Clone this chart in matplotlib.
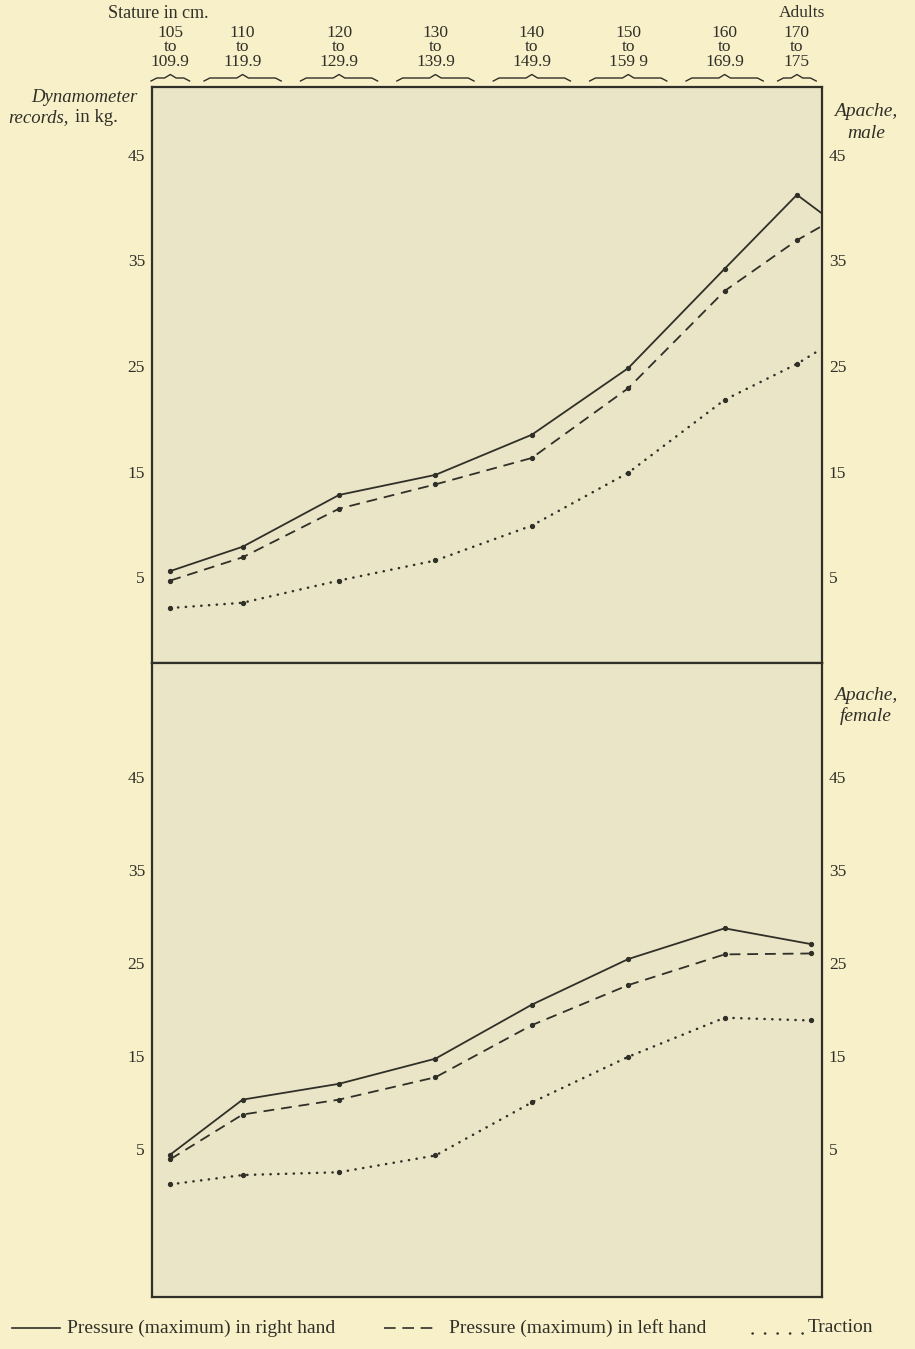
import numpy as np
import matplotlib.pyplot as plt
from matplotlib.lines import Line2D
from matplotlib.transforms import blended_transform_factory

plt.rcParams['font.family'] = ['Liberation Serif', 'DejaVu Serif']

# stature classes, cm
stature_lo = [105, 110, 120, 130, 140, 150, 160, 170]
stature_hi = [110, 120, 130, 140, 150, 160, 170, 175]
lo_txt = ['105', '110', '120', '130', '140', '150', '160', '170']
hi_txt = ['109.9', '119.9', '129.9', '139.9', '149.9', '159 9', '169.9', '175']
stature_mid = [107.5, 115, 125, 135, 145, 155, 165, 172.5]

# Apache, male (kg) - last value is where the line runs out of the frame
male_x = stature_mid + [175]
male_right = [5.6, 7.9, 12.8, 14.7, 18.5, 24.8, 34.2, 41.2, 39.5]
male_left = [4.7, 6.9, 11.5, 13.8, 16.3, 22.9, 32.1, 36.9, 38.2]
male_traction = [2.1, 2.6, 4.7, 6.6, 9.9, 14.9, 21.8, 25.2, 26.6]

# Apache, female (kg)
female_x = stature_mid[:-1] + [174]
female_right = [4.4, 10.3, 12.0, 14.7, 20.5, 25.4, 28.7, 27.0]
female_left = [3.9, 8.7, 10.3, 12.7, 18.3, 22.6, 25.9, 26.0]
female_traction = [1.2, 2.2, 2.5, 4.3, 10.0, 14.9, 19.1, 18.8]

yticks = [5, 15, 25, 35, 45]

W, H = 915, 1349
paper = '#f8f0c9'
inside = '#e9e5c6'
ink = '#302f28'

fig = plt.figure(figsize=(W / 100, H / 100), dpi=100, facecolor=paper)

def px(x, y):
    # figure fraction from pixel position (y down)
    return x / W, 1 - y / H

ax1 = fig.add_axes([152 / W, 1 - 663 / H, 670 / W, 576 / H])
ax2 = fig.add_axes([152 / W, 1 - 1297 / H, 670 / W, 634 / H])
ax1.set_ylim(-3.1, 51.4)
ax2.set_ylim(-10.9, 57.2)

styles = [
    dict(ls='-', lw=1.3),
    dict(ls=(0, (6, 3.8)), lw=1.3),
    dict(ls=(0, (0.1, 3.0)), lw=1.8, dash_capstyle='round'),
]

for ax, xs, series in [(ax1, male_x, [male_right, male_left, male_traction]),
                       (ax2, female_x, [female_right, female_left, female_traction])]:
    ax.set_facecolor(inside)
    ax.set_xlim(105.6, 175.1)
    n = len(xs) - 1 if ax is ax1 else len(xs)
    for ys, st in zip(series, styles):
        ax.plot(xs, ys, color=ink, **st)
        ax.plot(xs[:n], ys[:n], ls='none', marker='o', ms=2.8, color=ink)
    ax.set_xticks([])
    ax.set_yticks(yticks)
    ax.set_yticklabels([str(v) for v in yticks])
    ax.tick_params(axis='y', length=0, labelleft=True, labelright=True,
                   labelsize=12.5, colors=ink, pad=5)
    for s in ax.spines.values():
        s.set_color(ink)
        s.set_linewidth(1.6)

# header: stature classes with braces
tr = blended_transform_factory(ax1.transData, fig.transFigure)
for lo, hi, a, b, m in zip(lo_txt, hi_txt, stature_lo, stature_hi, stature_mid):
    for txt, ypx in [(lo, 33), ('to', 47), (hi, 62)]:
        fig.text(m, 1 - ypx / H, txt, transform=tr, ha='center', va='center',
                 fontsize=12.5, color=ink)
    pad = 0.1 * (b - a)
    x0, x1 = a + pad, b - pad
    e = 0.6
    bx = [x0, x0 + e, m - e, m, m + e, x1 - e, x1]
    by = [81, 78, 78, 74.5, 78, 78, 81]
    fig.add_artist(Line2D(bx, [1 - v / H for v in by], transform=tr,
                          color=ink, lw=1.0))

fig.text(*px(108, 13), 'Stature in cm.', ha='left', va='center', fontsize=13, color=ink)
fig.text(*px(802, 13), 'Adults', ha='center', va='center', fontsize=12.5, color=ink)

# left axis title
fig.text(*px(137, 97), 'Dynamometer', ha='right', va='center', fontsize=13.5,
         style='italic', color=ink)
fig.text(*px(69, 118), 'records,', ha='right', va='center', fontsize=13.5,
         style='italic', color=ink)
fig.text(*px(75, 118), 'in kg.', ha='left', va='center', fontsize=13.5, color=ink)

# panel names on the right
for label, y0 in [('male', 112), ('female', 695)]:
    fig.text(*px(866, y0), 'Apache,', ha='center', va='center', fontsize=14,
             style='italic', color=ink)
    fig.text(*px(866, y0 + 21), label, ha='center', va='center', fontsize=14,
             style='italic', color=ink)

# legend along the bottom
ly = 1 - 1328 / H
fig.add_artist(Line2D([12 / W, 60 / W], [ly, ly], color=ink, lw=1.2))
fig.text(67 / W, ly, 'Pressure (maximum) in right hand', ha='left', va='center',
         fontsize=14, color=ink)
fig.add_artist(Line2D([384 / W, 439 / W], [ly, ly], color=ink, lw=1.2, ls=(0, (7, 4))))
fig.text(449 / W, ly, 'Pressure (maximum) in left hand', ha='left', va='center',
         fontsize=14, color=ink)
fig.add_artist(Line2D([752 / W, 803 / W], [ly - 0.004, ly - 0.004], color=ink, lw=1.8,
                      ls=(0, (0.1, 4.9)), dash_capstyle='round'))
fig.text(808 / W, ly, 'Traction', ha='left', va='center', fontsize=14, color=ink)

fig.savefig('out.png', dpi=100, facecolor=paper)
